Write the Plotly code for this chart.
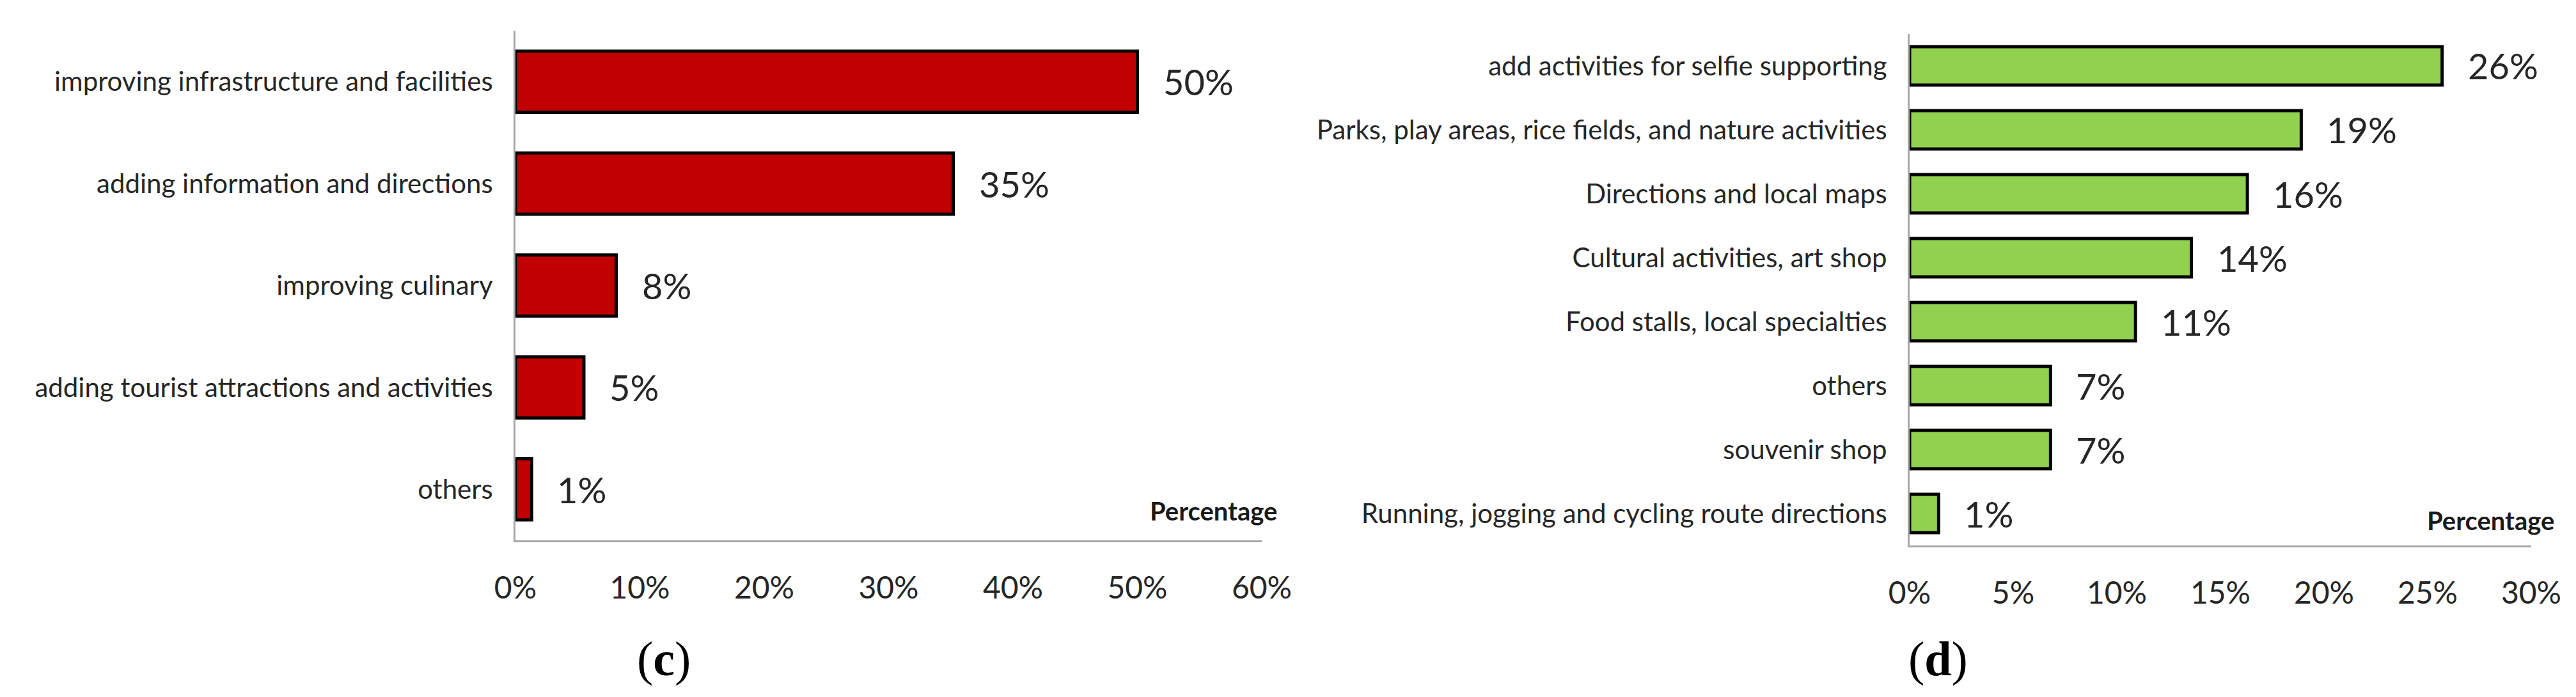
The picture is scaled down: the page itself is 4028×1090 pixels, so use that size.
import plotly.graph_objects as go

# ---------------- data ----------------
categories_c = [
    "improving infrastructure and facilities",
    "adding information and directions",
    "improving culinary",
    "adding tourist attractions and activities",
    "others",
]
values_c = [50.0, 35.2, 8.1, 5.5, 1.3]
labels_c = ["50%", "35%", "8%", "5%", "1%"]
tickvals_c = [0, 10, 20, 30, 40, 50, 60]
ticktext_c = ["0%", "10%", "20%", "30%", "40%", "50%", "60%"]

categories_d = [
    "add activities for selfie supporting",
    "Parks, play areas, rice fields, and nature activities",
    "Directions and local maps",
    "Cultural activities, art shop",
    "Food stalls, local specialties",
    "others",
    "souvenir shop",
    "Running, jogging and cycling route directions",
]
values_d = [25.7, 18.9, 16.3, 13.6, 10.9, 6.8, 6.8, 1.4]
labels_d = ["26%", "19%", "16%", "14%", "11%", "7%", "7%", "1%"]
tickvals_d = [0, 5, 10, 15, 20, 25, 30]
ticktext_d = ["0%", "5%", "10%", "15%", "20%", "25%", "30%"]

panel_titles = ["(<b>c</b>)", "(<b>d</b>)"]
axis_title = "Percentage"

# ---------------- style ----------------
W, H = 4028, 1090
FONT = "Lato, 'Open Sans', sans-serif"
TXT = "#262626"
AXIS = "#a6a6a6"

fig = go.Figure()
fig.add_trace(go.Bar(
    x=values_c, y=categories_c, orientation="h",
    marker=dict(color="#C00000", line=dict(color="black", width=5)),
    xaxis="x", yaxis="y", showlegend=False, hoverinfo="x+y",
))
fig.add_trace(go.Bar(
    x=values_d, y=categories_d, orientation="h",
    marker=dict(color="#92D050", line=dict(color="black", width=5)),
    xaxis="x2", yaxis="y2", showlegend=False, hoverinfo="x+y",
))

def px_x(p):
    return p / W

def px_y(p):
    return 1 - p / H

common_x = dict(
    showgrid=False, zeroline=False, showline=True, linecolor=AXIS, linewidth=3,
    ticks="outside", ticklen=30, tickcolor="rgba(0,0,0,0)", automargin=False,
    tickfont=dict(family=FONT, size=48, color=TXT), fixedrange=True,
)
common_y = dict(
    showgrid=False, zeroline=False, showline=True, linecolor=AXIS, linewidth=3,
    ticks="outside", ticklen=24, tickcolor="rgba(0,0,0,0)", automargin=False,
    tickfont=dict(family=FONT, size=42, color=TXT), autorange="reversed",
    fixedrange=True,
)

fig.update_layout(
    width=W, height=H, margin=dict(l=0, r=0, t=0, b=0, autoexpand=False),
    paper_bgcolor="white", plot_bgcolor="white", bargap=0.4,
    xaxis=dict(common_x, domain=[px_x(798), px_x(1965)], range=[0, 60],
               tickvals=tickvals_c, ticktext=ticktext_c, anchor="y"),
    yaxis=dict(common_y, domain=[px_y(837), px_y(40)], anchor="x"),
    xaxis2=dict(common_x, domain=[px_x(2978), px_x(3950)], range=[0, 30],
                tickvals=tickvals_d, ticktext=ticktext_d, anchor="y2"),
    yaxis2=dict(common_y, domain=[px_y(845), px_y(45)], anchor="x2"),
)

annotations = []
for xv, yv, t in zip(values_c, categories_c, labels_c):
    annotations.append(dict(x=xv, y=yv, xref="x", yref="y", text=t, showarrow=False,
                            xanchor="left", yanchor="middle", xshift=38,
                            font=dict(family=FONT, size=56, color=TXT)))
for xv, yv, t in zip(values_d, categories_d, labels_d):
    annotations.append(dict(x=xv, y=yv, xref="x2", yref="y2", text=t, showarrow=False,
                            xanchor="left", yanchor="middle", xshift=38,
                            font=dict(family=FONT, size=56, color=TXT)))

annotations.append(dict(x=px_x(1991), y=px_y(791), xref="paper", yref="paper",
                        text="<b>" + axis_title + "</b>", showarrow=False,
                        xanchor="right", yanchor="middle",
                        font=dict(family=FONT, size=40, color="#1a1a1a")))
annotations.append(dict(x=px_x(3988), y=px_y(806), xref="paper", yref="paper",
                        text="<b>" + axis_title + "</b>", showarrow=False,
                        xanchor="right", yanchor="middle",
                        font=dict(family=FONT, size=40, color="#1a1a1a")))

annotations.append(dict(x=px_x(1030), y=px_y(1022), xref="paper", yref="paper",
                        text=panel_titles[0], showarrow=False,
                        xanchor="center", yanchor="middle",
                        font=dict(family="'Liberation Serif', serif", size=76, color="black")))
annotations.append(dict(x=px_x(3022), y=px_y(1022), xref="paper", yref="paper",
                        text=panel_titles[1], showarrow=False,
                        xanchor="center", yanchor="middle",
                        font=dict(family="'Liberation Serif', serif", size=76, color="black")))

fig.update_layout(annotations=annotations)
fig.write_html("out.html")
